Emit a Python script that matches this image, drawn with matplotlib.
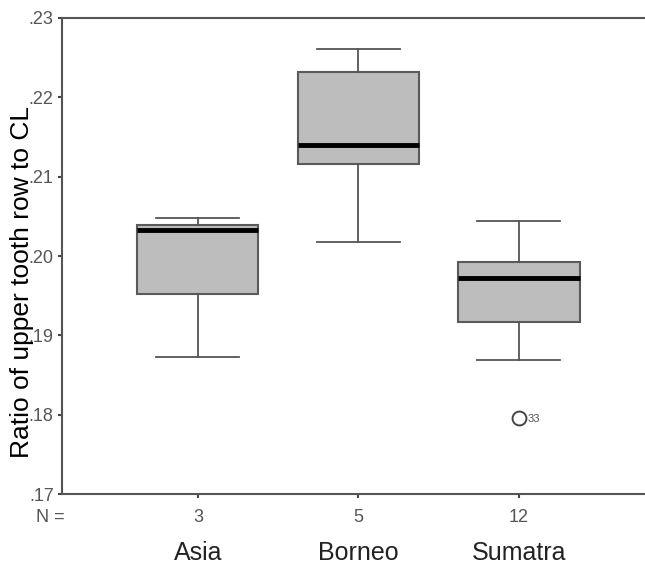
import matplotlib
matplotlib.use('Agg')
import matplotlib.pyplot as plt
from matplotlib.ticker import FuncFormatter

plt.rcParams['font.family'] = ['Liberation Sans', 'DejaVu Sans']

# values
groups = ['Asia', 'Borneo', 'Sumatra']
n_counts = [3, 5, 12]
whislo = [0.1873, 0.2018, 0.1869]
q1 = [0.1952, 0.2116, 0.1917]
med = [0.2033, 0.2140, 0.1972]
q3 = [0.2039, 0.2232, 0.1992]
whishi = [0.2048, 0.2261, 0.2044]
outliers = [[], [], [0.1796]]
outlier_ids = [[], [], ['33']]
yticks = [0.17, 0.18, 0.19, 0.20, 0.21, 0.22, 0.23]

stats = []
for i, g in enumerate(groups):
    stats.append(dict(label=g, whislo=whislo[i], q1=q1[i], med=med[i],
                      q3=q3[i], whishi=whishi[i], fliers=outliers[i]))

fig = plt.figure(figsize=(6.45, 5.66), dpi=100)
ax = fig.add_axes([0.0961, 0.1272, 0.9039, 0.8410])

pos = list(range(1, len(groups) + 1))
ax.bxp(stats, positions=pos, widths=0.754, patch_artist=True,
       boxprops=dict(facecolor='#bdbdbd', edgecolor='#5a5a5a', linewidth=1.5),
       medianprops=dict(color='black', linewidth=3.5, solid_capstyle='butt'),
       whiskerprops=dict(color='#555555', linewidth=1.3),
       capprops=dict(color='#555555', linewidth=1.3),
       capwidths=0.517,
       flierprops=dict(marker='o', markerfacecolor='none', markeredgecolor='#444444',
                       markersize=10, markeredgewidth=1.4))

for i, ids in enumerate(outlier_ids):
    for v, lab in zip(outliers[i], ids):
        ax.annotate(lab, (pos[i], v), xytext=(6, -1), textcoords='offset points',
                    ha='left', va='center', fontsize=8, color='#555555')

ax.set_xlim(0.153, 3.785)
ax.set_ylim(0.17, 0.23)
ax.set_yticks(yticks)
ax.yaxis.set_major_formatter(FuncFormatter(lambda v, p: f'{v:.2f}'.lstrip('0')))
ax.set_xticks(pos)
ax.set_xticklabels([str(n) for n in n_counts])
ax.tick_params(axis='both', length=3, width=1.5, color='#444444',
               labelsize=13, labelcolor='#555555')
ax.tick_params(axis='y', pad=3)
ax.tick_params(axis='x', pad=8)

for s in ['left', 'top', 'bottom']:
    ax.spines[s].set_color('#555555')
    ax.spines[s].set_linewidth(1.5)
ax.spines['right'].set_visible(False)

ax.set_ylabel('Ratio of upper tooth row to CL', fontsize=19, va='center')
ax.yaxis.set_label_coords(-0.069, 0.445)

fig.text(50 / 645, 1 - 517 / 566, 'N =', ha='center', va='center',
         fontsize=13, color='#555555')
for i, g in enumerate(groups):
    ax.text(pos[i], -0.138, g, transform=ax.get_xaxis_transform(),
            ha='center', va='baseline', fontsize=18, color='#222222')

fig.savefig('out.png', dpi=100)
